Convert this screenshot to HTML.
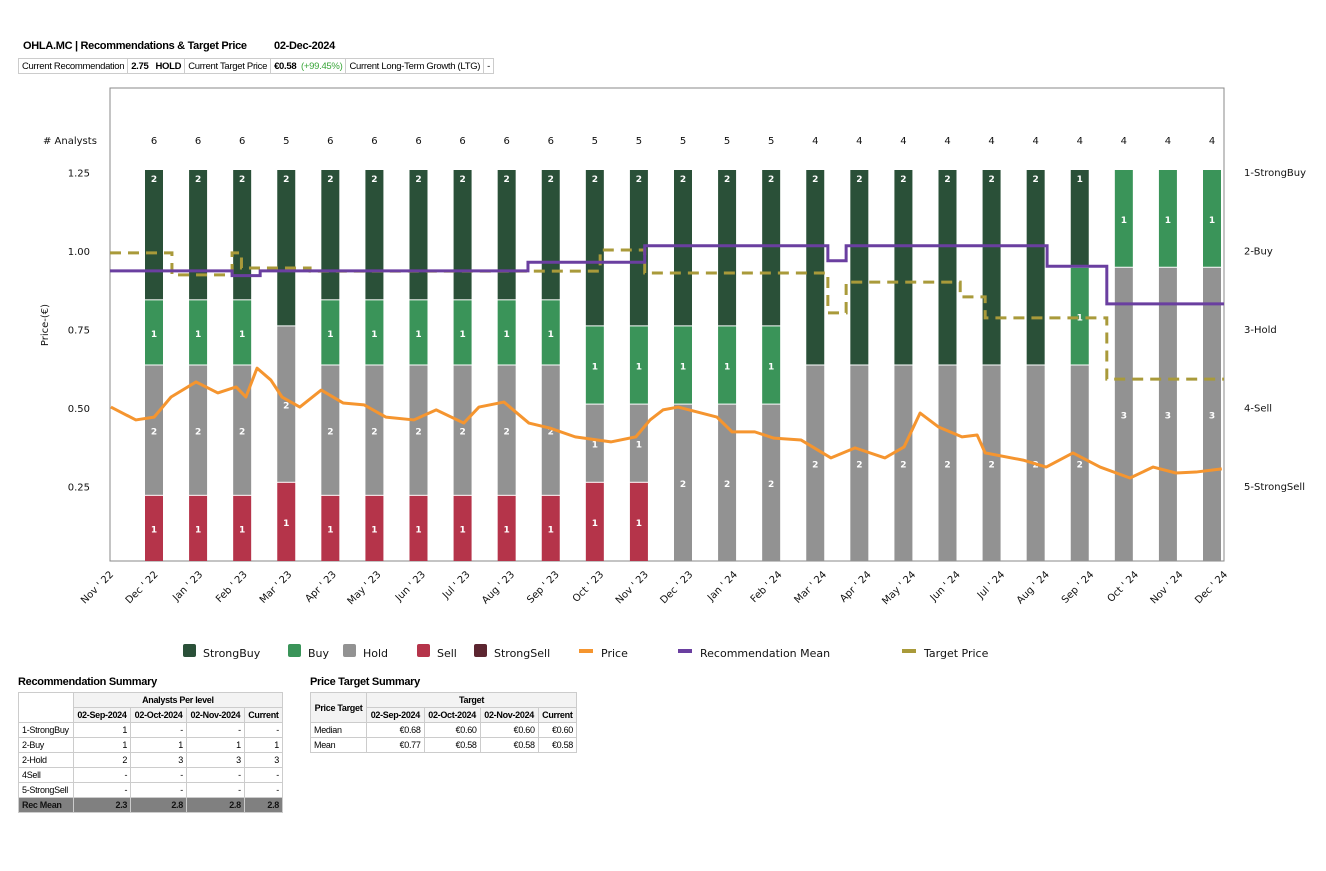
<!DOCTYPE html>
<html><head><meta charset="utf-8">
<style>
body{margin:0;background:#fff;width:1326px;height:871px;overflow:hidden;position:relative;font-family:"Liberation Sans",sans-serif;}
.abs{position:absolute;}
.title{font-weight:bold;font-size:11px;letter-spacing:-0.3px;}
table{border-collapse:collapse;font-size:9px;letter-spacing:-0.3px;}
td,th{border:1px solid #ccc;padding:0 3px;height:14px;white-space:nowrap;}
.info td{height:14px;font-size:9.5px;}
.r{text-align:right;}
th{font-weight:bold;background:#f3f3f3;}
.mean td{background:#808080;font-weight:bold;color:#111;}
svg text{font-family:"DejaVu Sans",sans-serif;}
</style></head>
<body>
<div class="abs title" style="left:23px;top:40px">OHLA.MC | Recommendations &amp; Target Price</div>
<div class="abs title" style="left:274px;top:40px">02-Dec-2024</div>
<table class="abs info" style="left:18px;top:58px">
<tr><td>Current Recommendation</td><td><b>2.75 &nbsp; HOLD</b></td><td>Current Target Price</td><td><b>€0.58</b> &nbsp;<span style="color:#3aa63a">(+99.45%)</span></td><td>Current Long-Term Growth (LTG)</td><td>-</td></tr>
</table>

<svg class="abs" style="left:0;top:0" width="1326" height="680" id="chart"></svg>

<div class="abs title" style="left:18px;top:676px">Recommendation Summary</div>
<table class="abs" style="left:18px;top:692px;width:265px">
<tr><th rowspan="2" style="background:#fff;border-bottom-color:#ccc"></th><th colspan="4">Analysts Per level</th></tr>
<tr><th>02-Sep-2024</th><th>02-Oct-2024</th><th>02-Nov-2024</th><th>Current</th></tr>
<tr><td>1-StrongBuy</td><td class="r">1</td><td class="r">-</td><td class="r">-</td><td class="r">-</td></tr>
<tr><td>2-Buy</td><td class="r">1</td><td class="r">1</td><td class="r">1</td><td class="r">1</td></tr>
<tr><td>2-Hold</td><td class="r">2</td><td class="r">3</td><td class="r">3</td><td class="r">3</td></tr>
<tr><td>4Sell</td><td class="r">-</td><td class="r">-</td><td class="r">-</td><td class="r">-</td></tr>
<tr><td>5-StrongSell</td><td class="r">-</td><td class="r">-</td><td class="r">-</td><td class="r">-</td></tr>
<tr class="mean"><td>Rec Mean</td><td class="r">2.3</td><td class="r">2.8</td><td class="r">2.8</td><td class="r">2.8</td></tr>
</table>

<div class="abs title" style="left:310px;top:676px">Price Target Summary</div>
<table class="abs" style="left:310px;top:692px;width:267px">
<tr><th rowspan="2">Price Target</th><th colspan="4">Target</th></tr>
<tr><th>02-Sep-2024</th><th>02-Oct-2024</th><th>02-Nov-2024</th><th>Current</th></tr>
<tr><td>Median</td><td class="r">€0.68</td><td class="r">€0.60</td><td class="r">€0.60</td><td class="r">€0.60</td></tr>
<tr><td>Mean</td><td class="r">€0.77</td><td class="r">€0.58</td><td class="r">€0.58</td><td class="r">€0.58</td></tr>
</table>

<script>
const monthLabels=["Nov ' 22","Dec ' 22","Jan ' 23","Feb ' 23","Mar ' 23","Apr ' 23","May ' 23","Jun ' 23","Jul ' 23","Aug ' 23","Sep ' 23","Oct ' 23","Nov ' 23","Dec ' 23","Jan ' 24","Feb ' 24","Mar ' 24","Apr ' 24","May ' 24","Jun ' 24","Jul ' 24","Aug ' 24","Sep ' 24","Oct ' 24","Nov ' 24","Dec ' 24"];
const strongBuy=[2,2,2,2,2,2,2,2,2,2,2,2,2,2,2,2,2,2,2,2,2,1,0,0,0];
const buy=[1,1,1,0,1,1,1,1,1,1,1,1,1,1,1,0,0,0,0,0,0,1,1,1,1];
const hold=[2,2,2,2,2,2,2,2,2,2,1,1,2,2,2,2,2,2,2,2,2,2,3,3,3];
const sell=[1,1,1,1,1,1,1,1,1,1,1,1,0,0,0,0,0,0,0,0,0,0,0,0,0];
const strongSell=[0,0,0,0,0,0,0,0,0,0,0,0,0,0,0,0,0,0,0,0,0,0,0,0,0];
const priceTicks=[0.25,0.5,0.75,1.0,1.25];
const recLabels=["1-StrongBuy","2-Buy","3-Hold","4-Sell","5-StrongSell"];
const priceT=[0.02,0.58,0.99,1.37,1.93,2.42,2.83,3.05,3.30,3.61,3.86,4.26,4.74,5.23,5.70,6.19,6.82,7.32,7.94,8.28,8.84,9.40,9.87,10.44,11.24,11.80,12.12,12.41,12.75,13.62,13.96,14.47,14.90,15.51,16.18,16.72,17.39,17.82,18.18,18.60,19.12,19.46,19.64,20.49,21.01,21.61,22.22,22.89,23.41,23.92,24.37,24.95];
const priceV=[0.503,0.462,0.471,0.535,0.583,0.548,0.567,0.535,0.627,0.589,0.535,0.503,0.557,0.516,0.510,0.471,0.462,0.494,0.452,0.503,0.519,0.452,0.436,0.408,0.392,0.408,0.462,0.494,0.503,0.471,0.424,0.424,0.404,0.398,0.341,0.373,0.341,0.376,0.484,0.439,0.408,0.414,0.357,0.334,0.312,0.357,0.312,0.277,0.312,0.293,0.296,0.306];
const targetT=[0,1.39,2.74,2.95,4.49,11.0,12.0,16.11,16.52,19.08,19.64,22.37];
const targetV=[0.994,0.924,0.994,0.946,0.936,1.003,0.930,0.803,0.901,0.854,0.787,0.592];
const recT=[0,2.74,3.37,9.38,12.0,16.11,16.52,21.03,22.37];
const recV=[2.26,2.32,2.26,2.15,1.94,2.13,1.94,2.20,2.68];

const NS="http://www.w3.org/2000/svg";
const svg=document.getElementById('chart');
const X0=110,X1=1224,Y0=88,YB=561;
const xT=t=>X0+t*(X1-X0)/25;
const yP=p=>565-p*314;
const yR=r=>172+(r-1)*78.5;
const barX=i=>154+i*(1212-154)/24;
const BTOP=170;
function mk(tag,a,parent){const e=document.createElementNS(NS,tag);for(const k in a)e.setAttribute(k,a[k]);(parent||svg).appendChild(e);return e;}
function txt(x,y,s,a,name){const e=mk('text',Object.assign({x:x,y:y,'font-size':10,fill:'#111'},a||{}));e.textContent=s;


return e;}

const frame=mk('rect',{x:X0,y:Y0,width:X1-X0,height:YB-Y0,fill:'none',stroke:'#888','stroke-width':1});



txt(43,144,'# Analysts',{},'analysts-axis-title');
txt(48,325,'Price-(€)',{transform:'rotate(-90 48 325)','text-anchor':'middle'},'y-axis-title');
priceTicks.forEach(p=>txt(90,yP(p)+4,p.toFixed(2),{'text-anchor':'end'},'price-tick-label'));
recLabels.forEach((s,i)=>txt(1244,yR(i+1)+4,s,{},'rec-axis-label'));

for(let i=0;i<strongBuy.length;i++){
  const tot=strongBuy[i]+buy[i]+hold[i]+sell[i]+strongSell[i];
  const unit=(YB-BTOP)/tot;
  let y=YB;
  txt(barX(i),144,String(tot),{'text-anchor':'middle'},'analyst-count');
  [[strongSell,'#5c2530'],[sell,'#b5344a'],[hold,'#929292'],[buy,'#3a9459'],[strongBuy,'#2a5038']].forEach(([arr,c])=>{
    const v=arr[i]; if(!v) return;
    const h=v*unit;
    const r=mk('rect',{x:barX(i)-9,y:y-h,width:18,height:h-(y===YB?0:1),fill:c});
    
    
    const ly=(arr===strongBuy)?(y-h+12):(y-h/2+4);
    txt(barX(i),ly,String(v),{'text-anchor':'middle',fill:'#fff','font-size':9,'font-weight':'bold'},'bar-value-label');
    y-=h;
  });
}
function stepPath(T,V,yf){let d='';for(let i=0;i<T.length;i++){const x=xT(T[i]),y=yf(V[i]);
 if(i===0)d+='M'+x+' '+y;else d+=' L'+x+' '+yf(V[i-1])+' L'+x+' '+y;}
 d+=' L'+X1+' '+yf(V[V.length-1]);return d;}
const tp=mk('path',{d:stepPath(targetT,targetV,yP),fill:'none',stroke:'#a99a3a','stroke-width':3,'stroke-dasharray':'11 7'});


const rp=mk('path',{d:stepPath(recT,recV,yR),fill:'none',stroke:'#6a3fa0','stroke-width':3});


let pd='';priceT.forEach((t,i)=>{pd+=(i?' L':'M')+xT(t)+' '+yP(priceV[i]);});
const pp=mk('path',{d:pd,fill:'none',stroke:'#f5952f','stroke-width':3,'stroke-linejoin':'round'});



monthLabels.forEach((s,i)=>{const x=xT(i)+4,y=575;
 txt(x,y,s,{'text-anchor':'end','font-size':10,transform:'rotate(-45 '+x+' '+y+')'},'x-tick-label');});

const legend=[['StrongBuy','#2a5038',183,'box'],['Buy','#3a9459',288,'box'],['Hold','#929292',343,'box'],['Sell','#b5344a',417,'box'],['StrongSell','#5c2530',474,'box'],['Price','#f5952f',581,'line'],['Recommendation Mean','#6a3fa0',680,'line'],['Target Price','#a99a3a',904,'line']];
legend.forEach(([s,c,x,k])=>{
 const m=k==='box'?mk('rect',{x:x,y:644,width:13,height:13,rx:2,fill:c}):mk('rect',{x:x-2,y:649,width:14,height:4,fill:c});
 
 
 txt(x+20,657,s,{'font-size':11},'legend-entry');
});
</script>
</body></html>
